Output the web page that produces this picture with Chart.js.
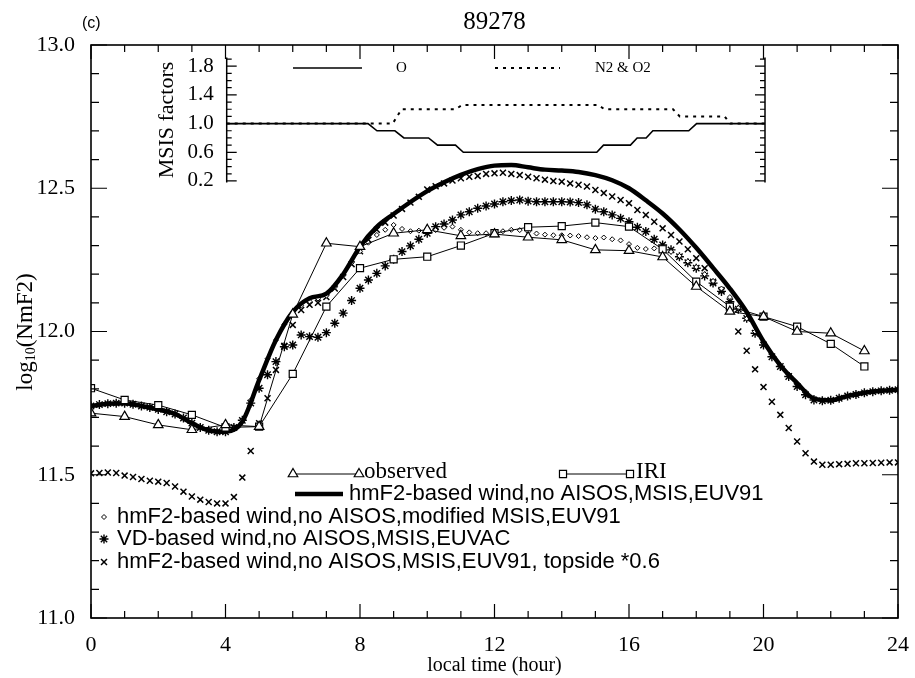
<!DOCTYPE html>
<html>
<head>
<meta charset="utf-8">
<script src="https://cdn.jsdelivr.net/npm/chart.js@4.4.1/dist/chart.umd.min.js"></script>
<style>
  html, body { margin: 0; padding: 0; background: #fff; }
  #wrap { position: relative; width: 915px; height: 678px; }
  #mainChart { position: absolute; left: 0; top: 0; }
  #insetChart { position: absolute; left: 140px; top: 40px; }
</style>
</head>
<body>
<div id="wrap">
  <canvas id="mainChart" width="915" height="678"></canvas>
  <canvas id="insetChart" width="640" height="160"></canvas>
</div>
<script>
// ---- data (local time in hours, log10 NmF2) ----
const obsHours = Array.from({length: 24}, (_, i) => i);
const observed = [11.715, 11.703, 11.674, 11.657, 11.674, 11.668, 12.06, 12.308, 12.296, 12.343, 12.355, 12.334,
                  12.34, 12.329, 12.32, 12.285, 12.282, 12.26, 12.157, 12.07, 12.052, 12.0, 11.994, 11.932];
const iri = [11.802, 11.761, 11.743, 11.709, 11.665, 11.668, 11.852, 12.087, 12.221, 12.252, 12.261, 12.30,
             12.343, 12.364, 12.368, 12.38, 12.366, 12.287, 12.174, 12.087, 12.052, 12.017, 11.957, 11.878];

// thick line, every half hour
const halfHours = Array.from({length: 49}, (_, i) => i * 0.5);
const hmf2Msis = [
  11.74, 11.748, 11.75, 11.74, 11.728, 11.712, 11.68, 11.655, 11.65, 11.685,   // 0 - 4.5
  11.83, 11.97, 12.068, 12.116, 12.132, 12.2, 12.296, 12.365, 12.41, 12.452,   // 5 - 9.5
  12.49, 12.521, 12.547, 12.567, 12.579, 12.581, 12.573, 12.565, 12.562, 12.557, // 10 - 14.5
  12.546, 12.528, 12.5, 12.458, 12.412, 12.356, 12.292, 12.222, 12.15, 12.068,  // 15 - 19.5
  11.965, 11.882, 11.82, 11.766, 11.76, 11.775, 11.786, 11.793, 11.797          // 20 - 24
];

// marker series, every quarter hour (one row per hour)
const quarterHours = Array.from({length: 97}, (_, i) => i * 0.25);
const modifiedMsis = [
  11.74, 11.745, 11.748, 11.75,
  11.75, 11.746, 11.74, 11.735,
  11.728, 11.72, 11.712, 11.698,
  11.68, 11.665, 11.655, 11.65,
  11.65, 11.66, 11.69, 11.76,
  11.835, 11.905, 11.97, 12.025,
  12.06, 12.09, 12.105, 12.115,
  12.125, 12.155, 12.195, 12.24,
  12.28, 12.31, 12.337, 12.355,
  12.372, 12.358, 12.35, 12.352,
  12.36, 12.354, 12.362, 12.366,
  12.355, 12.346, 12.343, 12.343,
  12.348, 12.35, 12.355, 12.354,
  12.348, 12.342, 12.338, 12.336,
  12.336, 12.335, 12.333, 12.329,
  12.326, 12.328, 12.322, 12.318,
  12.305, 12.292, 12.288, 12.29,
  12.288, 12.278, 12.264, 12.245,
  12.225, 12.2, 12.176, 12.15,
  12.12, 12.082, 12.045, 12.0,
  11.96, 11.92, 11.882, 11.85,
  11.818, 11.79, 11.768, 11.76,
  11.76, 11.767, 11.775, 11.78,
  11.786, 11.79, 11.793, 11.795,
  11.797
];
const vdEuvac = [
  11.74, 11.745, 11.748, 11.75,
  11.75, 11.746, 11.74, 11.735,
  11.728, 11.72, 11.712, 11.698,
  11.68, 11.665, 11.655, 11.65,
  11.65, 11.665, 11.69, 11.75,
  11.802, 11.849, 11.895, 11.947,
  11.953, 11.988, 11.982, 11.98,
  11.996, 12.029, 12.064, 12.108,
  12.151, 12.18, 12.203, 12.229,
  12.252, 12.279, 12.299, 12.322,
  12.343, 12.366, 12.375, 12.389,
  12.407, 12.418, 12.43, 12.438,
  12.445, 12.453, 12.457, 12.459,
  12.455, 12.453, 12.453, 12.453,
  12.453, 12.452, 12.45, 12.442,
  12.427, 12.418, 12.407, 12.395,
  12.383, 12.364, 12.349, 12.322,
  12.302, 12.285, 12.261, 12.24,
  12.221, 12.194, 12.169, 12.14,
  12.104, 12.078, 12.046, 11.994,
  11.953, 11.912, 11.878, 11.843,
  11.808, 11.779, 11.761, 11.758,
  11.76, 11.767, 11.775, 11.78,
  11.786, 11.79, 11.793, 11.795,
  11.797
];
const topside06 = [
  11.505, 11.506, 11.508, 11.506,
  11.497, 11.492, 11.485, 11.479,
  11.476, 11.471, 11.459, 11.441,
  11.424, 11.413, 11.405, 11.40,
  11.40, 11.422, 11.49, 11.583,
  11.68, 11.767, 11.866, 11.95,
  12.023, 12.075, 12.093, 12.10,
  12.12, 12.15, 12.19, 12.235,
  12.28, 12.32, 12.355, 12.38,
  12.405, 12.428, 12.45, 12.47,
  12.496, 12.507, 12.517, 12.527,
  12.535, 12.54, 12.543, 12.55,
  12.552, 12.554, 12.55, 12.546,
  12.54, 12.535, 12.53, 12.525,
  12.523, 12.517, 12.512, 12.506,
  12.494, 12.483, 12.471, 12.459,
  12.448, 12.424, 12.407, 12.383,
  12.36, 12.337, 12.314, 12.287,
  12.256, 12.221, 12.174, 12.145,
  12.087, 12.0, 11.933, 11.868,
  11.806, 11.755, 11.709, 11.663,
  11.616, 11.575, 11.546, 11.535,
  11.535, 11.537, 11.538, 11.54,
  11.54, 11.541, 11.542, 11.543,
  11.543
];

// inset: MSIS factors
const oHours  = [0, 6.3, 6.7, 7.5, 7.9, 9.0, 9.4, 10.2, 10.55, 16.5, 16.8, 18.0, 18.3, 18.7, 19.0, 20.6, 20.95, 24];
const oFactor = [1.0, 1.0, 0.9, 0.9, 0.8, 0.8, 0.7, 0.7, 0.6, 0.6, 0.7, 0.7, 0.8, 0.8, 0.9, 0.9, 1.0, 1.0];
const nHours  = [0, 7.4, 7.8, 10.2, 10.5, 16.55, 16.85, 19.9, 20.2, 22.2, 22.45, 24];
const nFactor = [1.0, 1.0, 1.2, 1.2, 1.26, 1.26, 1.2, 1.2, 1.1, 1.1, 1.0, 1.0];
const insetTicks = [0.2, 0.6, 1.0, 1.4, 1.8];

const legendText = [
  'observed', 'IRI',
  'hmF2-based wind,no AISOS,MSIS,EUV91',
  'hmF2-based wind,no AISOS,modified MSIS,EUV91',
  'VD-based wind,no AISOS,MSIS,EUVAC',
  'hmF2-based wind,no AISOS,MSIS,EUV91, topside *0.6'
];

const SERIF = '"Liberation Serif", "Times New Roman", serif';
const SANS = '"Liberation Sans", Arial, sans-serif';

const pts = (xs, ys) => xs.map((x, i) => ({x: x, y: ys[i]}));

function marker(ctx, style, radius, x, y, lw) {
  ctx.save();
  ctx.strokeStyle = '#000';
  ctx.fillStyle = '#fff';
  ctx.lineWidth = lw;
  Chart.helpers.drawPoint(ctx, {pointStyle: style, radius: radius, rotation: 0, borderWidth: lw}, x, y);
  ctx.restore();
}

// frame, inward ticks, titles and legend of the main plot
const mainDecor = {
  id: 'mainDecor',
  afterDraw(chart) {
    const {ctx, chartArea: a, scales: {x, y}} = chart;
    ctx.save();
    ctx.strokeStyle = '#000';
    ctx.lineWidth = 1.6;
    ctx.strokeRect(a.left, a.top, a.right - a.left, a.bottom - a.top);
    ctx.lineWidth = 1.2;
    ctx.beginPath();
    for (let h = 0; h <= 24; h++) {
      const px = x.getPixelForValue(h);
      const len = h % 4 === 0 ? 14 : 7;
      ctx.moveTo(px, a.bottom); ctx.lineTo(px, a.bottom - len);
      ctx.moveTo(px, a.top); ctx.lineTo(px, a.top + len);
    }
    for (let k = 0; k <= 20; k++) {
      const py = y.getPixelForValue(11 + k * 0.1);
      const len = k % 5 === 0 ? 16 : 8;
      ctx.moveTo(a.left, py); ctx.lineTo(a.left + len, py);
      ctx.moveTo(a.right, py); ctx.lineTo(a.right - len, py);
    }
    ctx.stroke();

    ctx.fillStyle = '#000';
    ctx.textBaseline = 'middle';
    ctx.textAlign = 'center';
    ctx.font = '25px ' + SERIF;
    ctx.fillText('89278', (a.left + a.right) / 2, 22);
    ctx.font = '20px ' + SERIF;
    ctx.fillText('local time (hour)', (a.left + a.right) / 2, 666);
    ctx.textAlign = 'left';
    ctx.font = '16px "Liberation Sans", sans-serif';
    ctx.fillText('(c)', 82, 24);

    // y title with subscript
    ctx.save();
    ctx.translate(26, 332);
    ctx.rotate(-Math.PI / 2);
    ctx.font = '23px ' + SERIF;
    const w1 = ctx.measureText('log').width;
    ctx.font = '14px ' + SERIF;
    const w2 = ctx.measureText('10').width;
    ctx.font = '23px ' + SERIF;
    const w3 = ctx.measureText('(NmF2)').width;
    let tx = -(w1 + w2 + w3) / 2;
    ctx.fillText('log', tx, 0); tx += w1;
    ctx.font = '14px ' + SERIF;
    ctx.fillText('10', tx, 5); tx += w2;
    ctx.font = '23px ' + SERIF;
    ctx.fillText('(NmF2)', tx, 0);
    ctx.restore();

    // legend
    ctx.lineWidth = 1;
    ctx.beginPath();
    ctx.moveTo(293, 474); ctx.lineTo(359, 474);
    ctx.moveTo(563, 474); ctx.lineTo(630, 474);
    ctx.stroke();
    marker(ctx, 'triangle', 5.5, 293, 474, 1.2);
    marker(ctx, 'triangle', 5.5, 359, 474, 1.2);
    marker(ctx, 'rect', 5, 563, 474, 1.2);
    marker(ctx, 'rect', 5, 630, 474, 1.2);
    ctx.font = '23px ' + SERIF;
    ctx.fillText(legendText[0], 364, 472);
    ctx.fillText(legendText[1], 636, 472);
    ctx.lineWidth = 4.5;
    ctx.beginPath();
    ctx.moveTo(295, 494); ctx.lineTo(343, 494);
    ctx.stroke();
    ctx.font = '22px ' + SANS;
    ctx.fillText(legendText[2], 349, 494);
    marker(ctx, 'rectRot', 2.5, 104, 517, 1);
    ctx.fillText(legendText[3], 117, 517);
    marker(ctx, 'star', 4.5, 104, 539, 1.4);
    ctx.fillText(legendText[4], 117, 539);
    marker(ctx, 'crossRot', 4.2, 104, 562, 1.5);
    ctx.fillText(legendText[5], 117, 562);
    ctx.restore();
  }
};

new Chart(document.getElementById('mainChart'), {
  type: 'line',
  data: {
    datasets: [
      {
        label: legendText[0],
        data: pts(obsHours, observed),
        borderColor: '#000', borderWidth: 1,
        pointStyle: 'triangle', pointRadius: 5.5, pointBorderWidth: 1.2,
        pointBackgroundColor: '#fff', pointBorderColor: '#000'
      },
      {
        label: legendText[1],
        data: pts(obsHours, iri),
        borderColor: '#000', borderWidth: 1,
        pointStyle: 'rect', pointRadius: 5, pointBorderWidth: 1.2,
        pointBackgroundColor: '#fff', pointBorderColor: '#000'
      },
      {
        label: legendText[2],
        data: pts(halfHours, hmf2Msis),
        borderColor: '#000', borderWidth: 4.5,
        pointRadius: 0, cubicInterpolationMode: 'monotone'
      },
      {
        label: legendText[3],
        data: pts(quarterHours, modifiedMsis),
        showLine: false,
        pointStyle: 'rectRot', pointRadius: 2.5, pointBorderWidth: 1,
        pointBackgroundColor: '#fff', pointBorderColor: '#000'
      },
      {
        label: legendText[4],
        data: pts(quarterHours, vdEuvac),
        showLine: false,
        pointStyle: 'star', pointRadius: 4.5, pointBorderWidth: 1.4,
        pointBorderColor: '#000'
      },
      {
        label: legendText[5],
        data: pts(quarterHours, topside06),
        showLine: false,
        pointStyle: 'crossRot', pointRadius: 4.2, pointBorderWidth: 1.5,
        pointBorderColor: '#000'
      }
    ]
  },
  options: {
    responsive: false,
    animation: false,
    devicePixelRatio: 1,
    layout: { padding: { top: 45, right: 12, bottom: 0, left: 0 } },
    plugins: { legend: { display: false }, tooltip: { enabled: false } },
    scales: {
      x: {
        type: 'linear', min: 0, max: 24,
        grid: { display: false }, border: { display: false },
        ticks: { stepSize: 4, maxRotation: 0, padding: 6, color: '#000', font: { family: SERIF, size: 22 } },
        afterFit: (s) => { s.height = 60; }
      },
      y: {
        min: 11, max: 13,
        grid: { display: false }, border: { display: false },
        ticks: { stepSize: 0.5, padding: 8, color: '#000', font: { family: SERIF, size: 22 },
                 callback: (v) => v.toFixed(1) },
        afterFit: (s) => { s.width = 91; }
      }
    }
  },
  plugins: [mainDecor]
});

// inset axes, ticks and legend
const insetDecor = {
  id: 'insetDecor',
  afterDraw(chart) {
    const {ctx, chartArea: a, scales: {y}} = chart;
    ctx.save();
    ctx.strokeStyle = '#000';
    ctx.lineWidth = 1.5;
    ctx.beginPath();
    ctx.moveTo(a.left, a.top); ctx.lineTo(a.left, a.bottom);
    ctx.moveTo(a.right, a.top); ctx.lineTo(a.right, a.bottom);
    ctx.stroke();
    ctx.lineWidth = 1.2;
    ctx.beginPath();
    for (let k = 0; k <= 17; k++) {
      const v = 0.2 + k * 0.1;
      const py = y.getPixelForValue(v);
      const len = k % 4 === 0 ? 10 : 5;
      ctx.moveTo(a.left, py); ctx.lineTo(a.left + len, py);
      ctx.moveTo(a.right, py); ctx.lineTo(a.right - len, py);
    }
    ctx.stroke();

    const ly = 28;
    ctx.lineWidth = 1.6;
    ctx.beginPath();
    ctx.moveTo(153, ly); ctx.lineTo(222, ly);
    ctx.stroke();
    ctx.lineWidth = 2;
    ctx.setLineDash([3, 5]);
    ctx.beginPath();
    ctx.moveTo(355, ly); ctx.lineTo(420, ly);
    ctx.stroke();
    ctx.setLineDash([]);
    ctx.fillStyle = '#000';
    ctx.font = '15px ' + SERIF;
    ctx.textBaseline = 'middle';
    ctx.textAlign = 'left';
    ctx.fillText('O', 256, ly);
    ctx.fillText('N2 & O2', 455, ly);

    ctx.save();
    ctx.translate(27, (a.top + a.bottom) / 2);
    ctx.rotate(-Math.PI / 2);
    ctx.textAlign = 'center';
    ctx.font = '22px ' + SERIF;
    ctx.fillText('MSIS factors', 0, 0);
    ctx.restore();
    ctx.restore();
  }
};

new Chart(document.getElementById('insetChart'), {
  type: 'line',
  data: {
    datasets: [
      { label: 'O', data: pts(oHours, oFactor), borderColor: '#000', borderWidth: 1.6, pointRadius: 0 },
      { label: 'N2 & O2', data: pts(nHours, nFactor), borderColor: '#000', borderWidth: 2,
        borderDash: [3, 5], pointRadius: 0 }
    ]
  },
  options: {
    responsive: false,
    animation: false,
    devicePixelRatio: 1,
    layout: { padding: { top: 5, right: 15, bottom: 10, left: 0 } },
    plugins: { legend: { display: false }, tooltip: { enabled: false } },
    scales: {
      x: { type: 'linear', min: 0, max: 24, display: false },
      y: {
        min: 0.18, max: 1.92,
        grid: { display: false }, border: { display: false },
        afterBuildTicks: (s) => { s.ticks = insetTicks.map(v => ({value: v})); },
        ticks: { padding: 5, color: '#000', font: { family: SERIF, size: 21 },
                 callback: (v) => v.toFixed(1) },
        afterFit: (s) => { s.width = 86.7; }
      }
    }
  },
  plugins: [insetDecor]
});
</script>
</body>
</html>
